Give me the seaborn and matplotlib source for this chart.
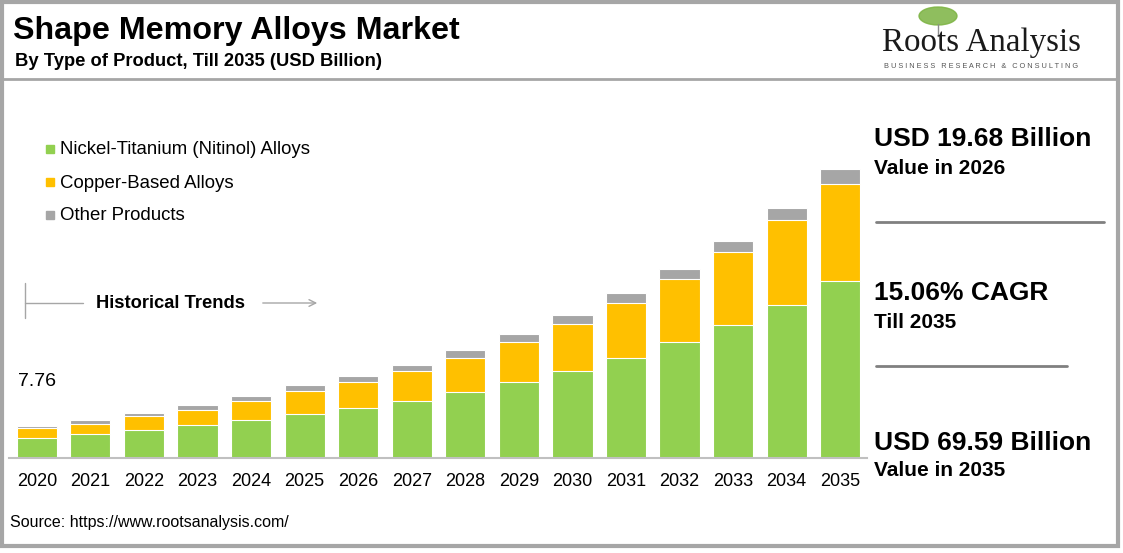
import matplotlib
matplotlib.use("Agg")
import matplotlib.pyplot as plt
import pandas as pd
import seaborn as sns
from matplotlib.lines import Line2D
from matplotlib.patches import Rectangle, Ellipse

years = ["2020", "2021", "2022", "2023", "2024", "2025", "2026", "2027",
         "2028", "2029", "2030", "2031", "2032", "2033", "2034", "2035"]
nitinol = [4.78, 5.70, 6.66, 7.86, 9.06, 10.65, 11.98, 13.77,
           16.03, 18.34, 20.99, 24.11, 27.96, 32.14, 36.95, 42.65]
copper = [2.42, 2.55, 3.37, 3.68, 4.71, 5.53, 6.32, 7.14,
          8.17, 9.62, 11.30, 13.22, 15.14, 17.45, 20.34, 23.42]
other = [0.56, 0.82, 0.79, 1.20, 1.13, 1.37, 1.38, 1.61,
         1.75, 1.92, 2.09, 2.33, 2.40, 2.81, 3.05, 3.52]
series_names = ["Nickel-Titanium (Nitinol) Alloys", "Copper-Based Alloys", "Other Products"]
colors = ["#92d050", "#ffc000", "#a6a6a6"]

df = pd.DataFrame({"year": years, "nitinol": nitinol, "copper": copper, "other": other})
df["lvl1"] = df["nitinol"]
df["lvl2"] = df["nitinol"] + df["copper"]
df["lvl3"] = df["lvl2"] + df["other"]

sns.set_theme(style="white")
plt.rcParams["font.family"] = ["Liberation Sans", "DejaVu Sans"]
plt.rcParams["text.color"] = "black"

W, H = 1123, 553
fig = plt.figure(figsize=(W / 100, H / 100), dpi=100)


def fx(x):
    return x / W


def fy(y):
    return 1 - y / H


ax = fig.add_axes([fx(9), fy(458), fx(867) - fx(9), fy(100) - fy(458)])

# cumulative layers, tallest first
for col, c in zip(["lvl3", "lvl2", "lvl1"], colors[::-1]):
    sns.barplot(data=df, x="year", y=col, order=years, color=c, width=0.75,
                edgecolor="white", linewidth=0.8, saturation=1, ax=ax)

ax.set_xlim(-0.52, 15.5)
ax.set_ylim(0, 86.3)
ax.set_xlabel("")
ax.set_ylabel("")
ax.set_yticks([])
for s in ["top", "right", "left"]:
    ax.spines[s].set_visible(False)
ax.spines["bottom"].set_color("#c0c0c0")
ax.spines["bottom"].set_linewidth(1.5)
ax.tick_params(axis="x", length=0, labelsize=13, pad=11, colors="black")
ax.patch.set_alpha(0)

ax.annotate(f"{df['lvl3'].iloc[0]:.2f}", xy=(0, df["lvl3"].iloc[0]), xytext=(0, 32),
            textcoords="offset points", ha="center", va="center", fontsize=14)

# frame and separators
fig.add_artist(Rectangle((fx(1.5), fy(546)), fx(1118) - fx(1.5), fy(1.5) - fy(546),
                         transform=fig.transFigure, fill=False,
                         edgecolor="#a6a6a6", linewidth=3))
fig.add_artist(Line2D([0, fx(1118)], [fy(79), fy(79)], transform=fig.transFigure,
                      color="#a6a6a6", linewidth=2))

# titles
fig.text(fx(13), fy(31), "Shape Memory Alloys Market", fontsize=23.2, fontweight="bold",
         va="center", ha="left")
fig.text(fx(15), fy(62), "By Type of Product, Till 2035 (USD Billion)", fontsize=13.2,
         fontweight="bold", va="center", ha="left")

# logo
fig.add_artist(Ellipse((fx(938), fy(16)), fx(38), fy(0) - fy(18),
                       transform=fig.transFigure, color="#7cb342", alpha=0.85))
fig.add_artist(Line2D([fx(938), fx(938)], [fy(24), fy(36)], transform=fig.transFigure,
                      color="#8d8d8d", linewidth=1))
fig.text(fx(981), fy(43), "Roots Analysis", family=["Liberation Serif", "DejaVu Serif"],
         fontsize=23.8, ha="center", va="center", color="#1a1a1a")
fig.text(fx(981), fy(67), "B U S I N E S S   R E S E A R C H   &   C O N S U L T I N G",
         fontsize=5.3, ha="center", va="center", color="#555555")

# legend
for i, (name, c) in enumerate(zip(series_names, colors)):
    yy = 150 + i * 33
    fig.add_artist(Rectangle((fx(46), fy(yy + 3)), fx(8), fy(0) - fy(8),
                             transform=fig.transFigure, color=c))
    fig.text(fx(60), fy(yy), name, fontsize=13.4, ha="left", va="center")

# historical trends marker
fig.add_artist(Line2D([fx(25), fx(25)], [fy(283), fy(318)], transform=fig.transFigure,
                      color="#a6a6a6", linewidth=1))
fig.add_artist(Line2D([fx(25), fx(83)], [fy(303), fy(303)], transform=fig.transFigure,
                      color="#a6a6a6", linewidth=1))
fig.text(fx(96), fy(303), "Historical Trends", fontsize=13.2, fontweight="bold",
         ha="left", va="center")
ax.annotate("", xy=(fx(320), fy(303)), xytext=(fx(260), fy(303)),
            xycoords="figure fraction", textcoords="figure fraction",
            arrowprops=dict(arrowstyle="->", color="#a6a6a6", lw=1))

# right panel
fig.text(fx(874), fy(139), "USD 19.68 Billion", fontsize=19, fontweight="bold",
         ha="left", va="center")
fig.text(fx(874), fy(169), "Value in 2026", fontsize=15, fontweight="bold",
         ha="left", va="center")
fig.add_artist(Line2D([fx(876), fx(1104)], [fy(222), fy(222)], transform=fig.transFigure,
                      color="#808080", linewidth=2))
fig.text(fx(874), fy(293), "15.06% CAGR", fontsize=19, fontweight="bold",
         ha="left", va="center")
fig.text(fx(874), fy(322), "Till 2035", fontsize=15, fontweight="bold",
         ha="left", va="center")
fig.add_artist(Line2D([fx(876), fx(1067)], [fy(366), fy(366)], transform=fig.transFigure,
                      color="#808080", linewidth=2))
fig.text(fx(874), fy(443), "USD 69.59 Billion", fontsize=19, fontweight="bold",
         ha="left", va="center")
fig.text(fx(874), fy(471), "Value in 2035", fontsize=15, fontweight="bold",
         ha="left", va="center")

fig.text(fx(10), fy(523), "Source: https://www.rootsanalysis.com/", fontsize=11.5,
         ha="left", va="center")

fig.savefig("out.png", dpi=100)
plt.close(fig)
